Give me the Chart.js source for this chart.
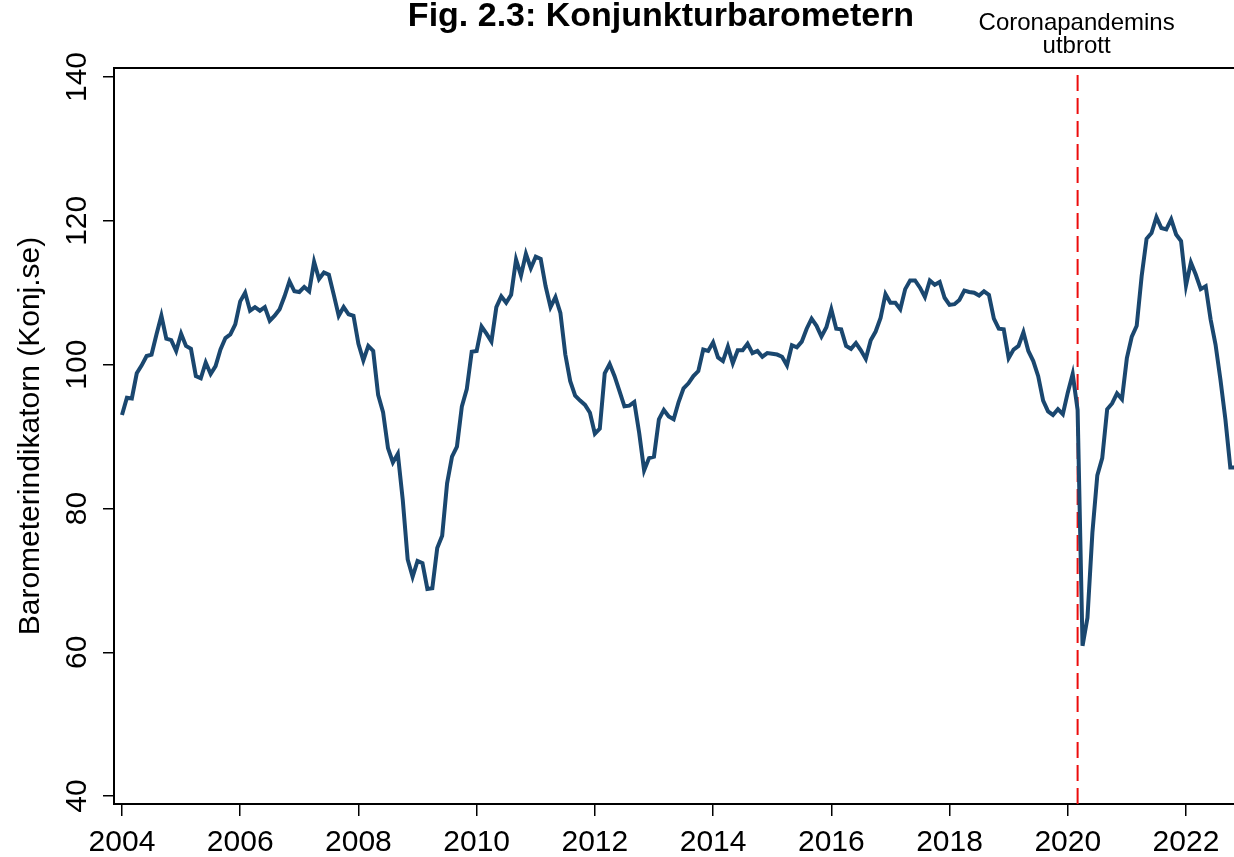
<!DOCTYPE html>
<html>
<head>
<meta charset="utf-8">
<script src="https://cdn.jsdelivr.net/npm/chart.js@4.4.1/dist/chart.umd.min.js"></script>
<style>
html, body { margin: 0; padding: 0; background: #fff; overflow: hidden; }
#wrap { width: 1234px; height: 857px; overflow: hidden; }
</style>
</head>
<body>
<div id="wrap"><canvas id="myChart" width="1322" height="857"></canvas></div>
<script>
// monthly values, Jan 2004 .. Nov 2022
const startYear = 2004;
const barometer = [
  93.0, 95.4, 95.3, 98.8, 99.9, 101.2, 101.4, 104.2, 106.8, 103.6, 103.4, 101.9,
  104.3, 102.6, 102.2, 98.4, 98.1, 100.3, 98.7, 99.8, 102.1, 103.7, 104.2, 105.6,
  108.8, 110.0, 107.5, 108.0, 107.5, 108.0, 106.1, 106.8, 107.7, 109.5, 111.6, 110.2,
  110.1, 110.8, 110.2, 114.3, 111.9, 112.8, 112.5, 109.7, 106.8, 108.0, 107.0, 106.8,
  102.9, 100.6, 102.6, 101.9, 95.8, 93.4, 88.4, 86.4, 87.6, 81.2, 72.9, 70.5,
  72.7, 72.4, 68.8, 68.9, 74.5, 76.2, 83.5, 87.2, 88.6, 94.2, 96.6, 101.8,
  101.9, 105.3, 104.3, 103.2, 108.0, 109.5, 108.6, 109.7, 114.6, 112.4, 115.4, 113.4,
  115.0, 114.7, 110.9, 108.0, 109.4, 107.2, 101.4, 97.7, 95.7, 95.0, 94.4, 93.3,
  90.4, 91.1, 98.8, 100.1, 98.4, 96.3, 94.2, 94.3, 94.8, 90.5, 85.3, 87.0,
  87.2, 92.4, 93.7, 92.8, 92.4, 94.8, 96.7, 97.4, 98.4, 99.1, 102.1, 101.9,
  103.1, 101.0, 100.5, 102.5, 100.2, 102.0, 102.0, 102.9, 101.6, 101.9, 101.1, 101.6,
  101.5, 101.4, 101.1, 99.9, 102.7, 102.4, 103.2, 105.0, 106.4, 105.4, 103.9, 105.2,
  107.7, 105.0, 104.9, 102.6, 102.2, 103.0, 102.0, 100.8, 103.4, 104.6, 106.5, 109.8,
  108.6, 108.6, 107.7, 110.5, 111.7, 111.7, 110.7, 109.4, 111.7, 111.1, 111.5, 109.3,
  108.3, 108.4, 109.0, 110.3, 110.1, 110.0, 109.6, 110.2, 109.7, 106.4, 105.0, 104.9,
  100.9, 102.1, 102.6, 104.5, 101.9, 100.5, 98.4, 95.0, 93.5, 93.0, 93.8, 93.1,
  96.1, 98.7, 93.7, 60.9, 64.8, 76.6, 84.6, 87.0, 93.8, 94.6, 96.0, 95.2,
  100.9, 103.9, 105.4, 112.3, 117.5, 118.3, 120.5, 119.0, 118.8, 120.2, 118.1, 117.2,
  111.0, 114.2, 112.5, 110.5, 110.9, 106.3, 102.8, 97.9, 92.4, 85.7, 85.7
];
const xTicks = [2004, 2006, 2008, 2010, 2012, 2014, 2016, 2018, 2020, 2022];
const yTicks = [40, 60, 80, 100, 120, 140];
const covidDate = 2020 + 2 / 12; // mars 2020
const covidLabel = ['Coronapandemins', 'utbrott'];

const FONT = "'Liberation Sans', Arial, Helvetica, sans-serif";

const points = barometer.map((v, i) => ({ x: startYear + i / 12, y: v }));

const frame = {
  id: 'frame',
  beforeDatasetsDraw(chart) {
    const { ctx, chartArea, scales } = chart;
    const px = scales.x.getPixelForValue(covidDate);
    ctx.save();
    ctx.strokeStyle = 'rgb(236,12,12)';
    ctx.lineWidth = 2;
    ctx.setLineDash([16, 7]);
    ctx.beginPath();
    ctx.moveTo(px, chartArea.bottom);
    ctx.lineTo(px, chartArea.top);
    ctx.stroke();
    ctx.restore();
  },
  afterDraw(chart) {
    const { ctx, chartArea, scales } = chart;
    const px = scales.x.getPixelForValue(covidDate);
    ctx.save();
    // top edge of the plot region
    ctx.strokeStyle = '#000';
    ctx.lineWidth = 2;
    ctx.beginPath();
    ctx.moveTo(chartArea.left, chartArea.top);
    ctx.lineTo(chartArea.right, chartArea.top);
    ctx.stroke();
    ctx.fillStyle = '#000';
    ctx.font = '24px ' + FONT;
    ctx.textAlign = 'center';
    ctx.textBaseline = 'alphabetic';
    ctx.fillText(covidLabel[0], px - 1, chartArea.top - 38.5);
    ctx.fillText(covidLabel[1], px - 1, chartArea.top - 15);
    ctx.restore();
  }
};

new Chart(document.getElementById('myChart'), {
  type: 'line',
  data: {
    datasets: [{
      data: points,
      borderColor: '#1a476f',
      borderWidth: 4,
      pointRadius: 0,
      tension: 0,
      fill: false
    }]
  },
  options: {
    responsive: false,
    devicePixelRatio: 1,
    animation: false,
    layout: { padding: 0 },
    plugins: {
      legend: { display: false },
      tooltip: { enabled: false },
      title: {
        display: true,
        text: 'Fig. 2.3: Konjunkturbarometern',
        color: '#000',
        font: { family: FONT, size: 34, weight: 'bold', lineHeight: 1 },
        padding: { top: 0, bottom: 34 }
      }
    },
    scales: {
      x: {
        type: 'linear',
        min: 2003.865,
        max: 2004 + (1322 - 122) / 59.11,
        afterBuildTicks: s => { s.ticks = xTicks.map(v => ({ value: v })); },
        afterFit: s => { s.height = 53; },
        ticks: {
          color: '#000',
          font: { family: FONT, size: 30 },
          padding: 9,
          maxRotation: 0,
          autoSkip: false,
          callback: v => String(v)
        },
        grid: { display: true, drawOnChartArea: false, drawTicks: true, tickLength: 12, color: '#000', lineWidth: 1.5 },
        border: { display: true, color: '#000', width: 2 }
      },
      y: {
        min: 38.9,
        max: 141.25,
        afterBuildTicks: s => { s.ticks = yTicks.map(v => ({ value: v })); },
        afterFit: s => { s.width = 114; },
        ticks: {
          color: '#000',
          font: { family: FONT, size: 30 },
          minRotation: 90,
          maxRotation: 90,
          crossAlign: 'center',
          padding: 0,
          autoSkip: false,
          callback: v => String(v)
        },
        grid: { display: true, drawOnChartArea: false, drawTicks: true, tickLength: 11, color: '#000', lineWidth: 1.5 },
        border: { display: true, color: '#000', width: 2 },
        title: {
          display: true,
          text: 'Barometerindikatorn (Konj.se)',
          color: '#000',
          font: { family: FONT, size: 30, lineHeight: 1 },
          padding: { top: 16, bottom: 0 }
        }
      }
    }
  },
  plugins: [frame]
});
</script>
</body>
</html>
